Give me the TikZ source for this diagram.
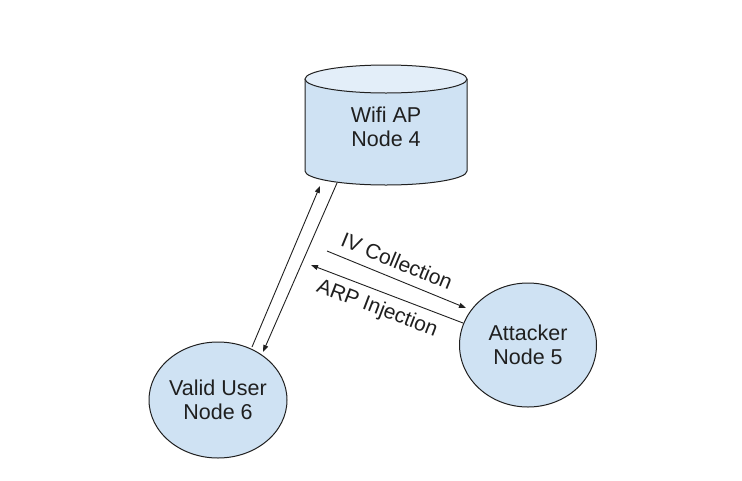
\documentclass[tikz,border=0pt]{standalone}
\usepackage{fontspec}
\setmainfont{Liberation Sans}
\usetikzlibrary{arrows.meta,shapes.geometric}
\definecolor{nodefill}{HTML}{CFE2F3}
\definecolor{topfill}{HTML}{E3EEF9}
\definecolor{strokec}{HTML}{202020}
\tikzset{
  shapeline/.style={draw=strokec, line width=1pt},
  nodetext/.style={font=\fontsize{21.5}{24.5}\selectfont, align=center, text=black!88},
  roundnode/.style={ellipse, shapeline, fill=nodefill, inner sep=0pt, nodetext},
  conn/.style={draw=strokec, line width=0.9pt, -{Triangle[length=7pt,width=5pt]}},
  lbl/.style={font=\fontsize{21}{24}\selectfont, text=black!88, inner sep=0pt}
}
\begin{document}
\begin{tikzpicture}[x=1pt,y=-1pt]
\useasboundingbox (0,0) rectangle (742,480);
% cylinder (Wifi AP)
\fill[nodefill] (305,79) -- (305,171) arc[start angle=180,end angle=360,x radius=81,y radius=-14] -- (467,79) -- cycle;
\draw[shapeline] (305,79) -- (305,171) arc[start angle=180,end angle=360,x radius=81,y radius=-14] -- (467,79);
\draw[shapeline, fill=topfill] (386,79) ellipse [x radius=81, y radius=14];
\node[nodetext] (ap) at (386,127) {Wifi AP\\Node 4};
% ellipses
\node[roundnode, minimum width=134pt, minimum height=116pt] (user) at (218,400) {Valid User\\Node 6};
\node[roundnode, minimum width=137pt, minimum height=124pt] (att) at (528,345) {Attacker\\Node 5};
% connector endpoints
\coordinate (u1) at (252,347);
\coordinate (a1) at (320,186);
\coordinate (a2) at (337,183);
\coordinate (u2) at (263,352);
\coordinate (iv1) at (327,251);
\coordinate (iv2) at (466,308);
\coordinate (arp1) at (463,323);
\coordinate (arp2) at (311,265);
\draw[conn] (u1) -- (a1);
\draw[conn] (a2) -- (u2);
\draw[conn] (iv1) -- (iv2);
\draw[conn] (arp1) -- (arp2);
\node[lbl, rotate=-22.4] (ivl) at (397,261) {IV Collection};
\node[lbl, rotate=-21] (arpl) at (377,309) {ARP Injection};
\end{tikzpicture}
\end{document}
